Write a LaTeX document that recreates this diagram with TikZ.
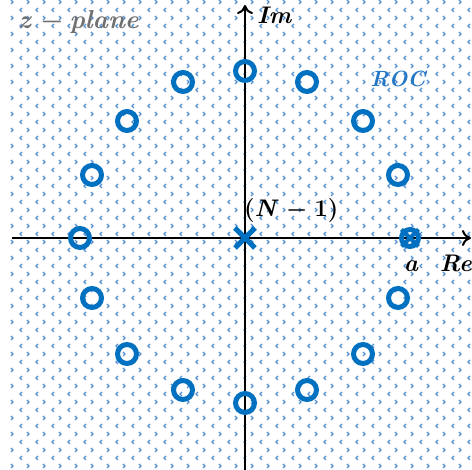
\documentclass[tikz,border=0pt]{standalone}
\usepackage{fontspec}
\usetikzlibrary{arrows.meta,patterns,shapes.misc}
\definecolor{zblue}{HTML}{0070C0}
\definecolor{rocblue}{HTML}{2477C4}
\definecolor{patblue}{HTML}{5590D2}
\definecolor{zgray}{HTML}{707070}
\newcommand\mylblfont{\fontsize{24}{28}\selectfont\bfseries\itshape\addfontfeatures{FakeBold=1}}
\pgfdeclarepatternformonly{chev}{\pgfpoint{-1pt}{-1pt}}{\pgfpoint{17pt}{17pt}}{\pgfpoint{16pt}{16pt}}{%
  \pgfsetlinewidth{1.1pt}%
  \pgfpathmoveto{\pgfpoint{6pt}{14pt}}\pgfpathlineto{\pgfpoint{4pt}{12pt}}\pgfpathlineto{\pgfpoint{6pt}{10pt}}%
  \pgfpathmoveto{\pgfpoint{11pt}{6pt}}\pgfpathlineto{\pgfpoint{13pt}{4pt}}\pgfpathlineto{\pgfpoint{11pt}{2pt}}%
  \pgfusepath{stroke}%
}
\begin{document}
\begin{tikzpicture}[x=1pt,y=-1pt,
  axis/.style={line width=2.4pt,-{To[length=9pt,width=16pt,line width=2pt]}},
  zero/.style={circle,draw=zblue,line width=5pt,minimum size=19pt,inner sep=0pt},
  pole/.style={cross out,draw=zblue,line width=5pt,minimum size=15pt,inner sep=0pt},
  lbl/.style={font=\mylblfont,inner sep=0pt}]
\useasboundingbox (0,0) rectangle (472,470);
\fill[white] (0,0) rectangle (472,470);
\fill[pattern=chev,pattern color=patblue] (10,0) rectangle (472,470);
% axes
\coordinate (xl) at (12,238);
\coordinate (xr) at (471,238);
\coordinate (yb) at (245,470);
\coordinate (yt) at (245,5);
\draw[axis] (xl) -- (xr);
\draw[axis] (yb) -- (yt);
% zeros on the circle
\foreach \nm/\px/\py in {z1/245/71,z2/183/82,z3/307/82,z4/127/121,z5/363/121,
  z6/92/175,z7/398/175,z8/80/238,z9/92/298,z10/398/298,z11/127/354,
  z12/363/354,z13/183/390,z14/307/390,z15/245/403}
  \node[zero] (\nm) at (\px,\py) {};
% pole at origin
\node[pole] (p0) at (245,238) {};
% cancelled pole-zero at a
\node[zero,minimum size=17pt] (za) at (410,238) {};
\node[pole,minimum size=13pt,line width=4pt] (pa) at (410,238) {};
% labels
\node[lbl,anchor=west] (imlbl) at (257,15) {Im};
\node[lbl,anchor=east] (relbl) at (472,263) {Re};
\node[lbl] (albl) at (411,266) {a};
\node[lbl,anchor=west] (nlbl) at (244,211) {{\upshape(}N\hspace{0.35em}−\hspace{0.35em}{\upshape 1)}};
\node[lbl,text=rocblue] (roc) at (398,79) {\fontsize{22}{26}\selectfont ROC};
\node[lbl,text=zgray,anchor=west] (zp) at (18,22) {\fontsize{26}{30}\selectfont\addfontfeatures{LetterSpace=12}z\hspace{0.3em}−\hspace{0.3em}plane};
\end{tikzpicture}
\end{document}
